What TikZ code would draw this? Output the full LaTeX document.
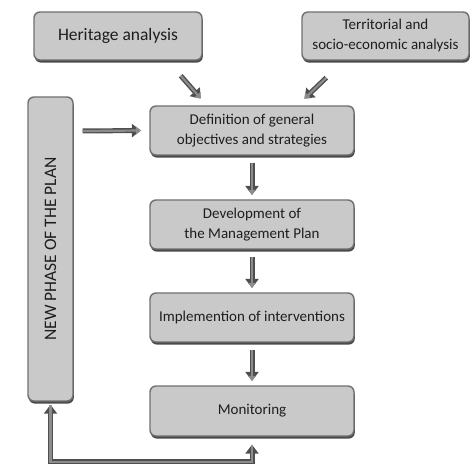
\documentclass[tikz,border=0pt]{standalone}
\usepackage{fontspec}
\setmainfont{Carlito}
\usetikzlibrary{arrows.meta,shadows,calc}
\definecolor{boxfill}{HTML}{C9C9C9}
\definecolor{boxedge}{HTML}{707070}
\definecolor{shade}{HTML}{4A4A4A}
\definecolor{arrdark}{HTML}{4F4F4F}
\definecolor{arrlight}{HTML}{8C8C8C}
\definecolor{txt}{HTML}{1E1E1E}
\tikzset{
  box/.style={rounded corners=6pt, fill=boxfill, draw=boxedge, line width=1.4pt,
    drop shadow={shadow xshift=0.8pt, shadow yshift=-2.6pt, fill=shade, opacity=1},
    text=txt, align=center, inner sep=2pt,
    font=\fontsize{15}{20}\selectfont},
  big/.style={font=\fontsize{17.5}{21}\selectfont},
  flow/.style={preaction={draw=arrdark, line width=5pt,
      -{Triangle[length=9pt,width=13pt]}},
    draw=arrlight, line width=2.2pt, -{Triangle[length=5pt,width=8pt]}, shorten >=2.4pt},
  loop/.style={preaction={draw=arrdark, line width=5pt,
      {Triangle[length=9pt,width=13pt]}-{Triangle[length=9pt,width=13pt]}}},
}
\begin{document}
\begin{tikzpicture}[x=1pt,y=-1pt]
\useasboundingbox (0,0) rectangle (474,470);
\node[box, big, minimum width=168pt, minimum height=48pt] (her) at (118,36) {Heritage analysis};
\node[box, minimum width=167pt, minimum height=48pt] (ter) at (385.5,36) {Territorial and\\socio-economic analysis};
\node[box, minimum width=204pt, minimum height=49pt] (def) at (252,130.5) {Definition of general\\objectives and strategies};
\node[box, minimum width=204pt, minimum height=49pt] (dev) at (252,224.5) {Development of\\the Management Plan};
\node[box, minimum width=204pt, minimum height=49pt] (imp) at (252,317.5) {Implemention of interventions};
\node[box, minimum width=204pt, minimum height=50pt] (mon) at (252,411) {Monitoring};
\node[box, big, minimum width=304pt, minimum height=45pt, rotate=90] (np) at (50.5,249) {NEW PHASE OF THE PLAN};

\draw[flow] ($(her.south east)+(-22,15)$) -- ($(def.north west)+(53,-5)$);
\draw[flow] ($(ter.south west)+(25,17)$) -- ($(def.north east)+(-52,-5)$);
\draw[flow] ($(np.south)+(9,-118)$) -- ($(def.west)+(-6,0)$);
\draw[flow] ($(def.south)+(0,7)$) -- ($(dev.north)+(0,-2)$);
\draw[flow] ($(dev.south)+(0,7)$) -- ($(imp.north)+(0,-2)$);
\draw[flow] ($(imp.south)+(0,7)$) -- ($(mon.north)+(0,-2)$);
\draw[loop, draw=arrlight, line width=2.2pt] ($(mon.south)+(0,8)$) -- ++(0,17) -| ($(np.west)+(0,3)$);
\end{tikzpicture}
\end{document}
